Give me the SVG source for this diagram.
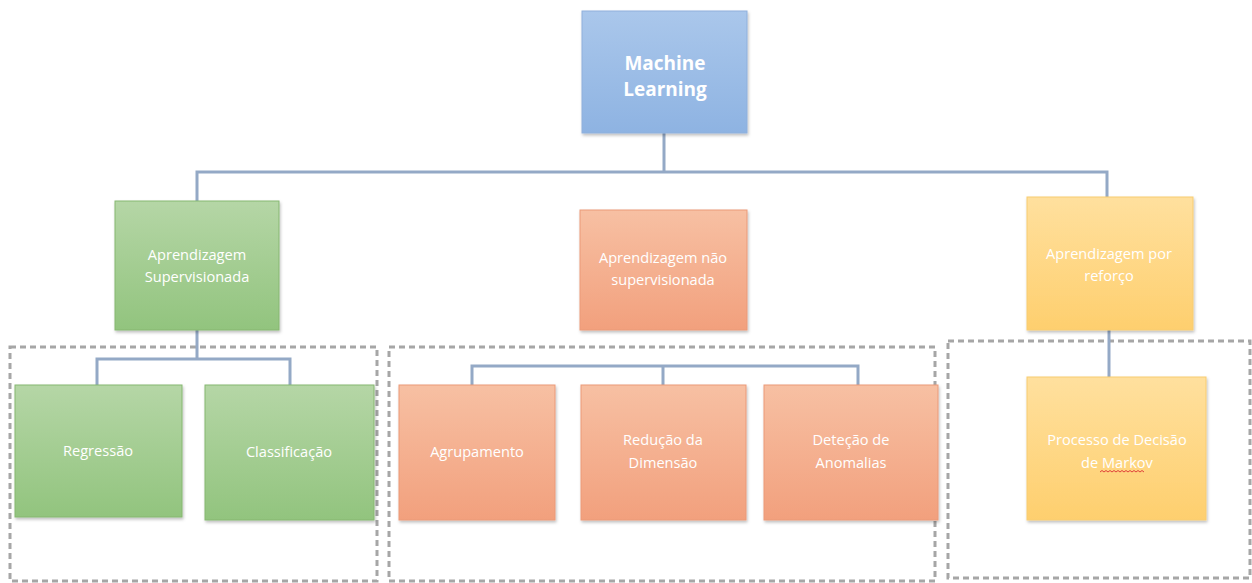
<svg xmlns="http://www.w3.org/2000/svg" width="1252" height="583" viewBox="0 0 1252 583">
<style>
.t{font-family:"Open Sans","Liberation Sans",sans-serif;font-size:14.6px;fill:#ffffff;text-anchor:middle}
.tb{font-family:"Open Sans","Liberation Sans",sans-serif;font-size:19px;font-weight:bold;fill:#ffffff;text-anchor:middle}
.c{fill:none;stroke:#94a9c6;stroke-width:3}
.d{fill:none;stroke:#a6a6a6;stroke-width:3;stroke-dasharray:6 4}
.blue{fill:url(#gb);stroke:#8fb0dc;stroke-width:1;filter:url(#sh)}
.green{fill:url(#gg);stroke:#86b771;stroke-width:1;filter:url(#sh)}
.orange{fill:url(#go);stroke:#eb9a78;stroke-width:1;filter:url(#sh)}
.yellow{fill:url(#gy);stroke:#f8cc70;stroke-width:1;filter:url(#sh)}
</style>
<defs>
<linearGradient id="gb" x1="0" y1="0" x2="0" y2="1"><stop offset="0" stop-color="#aac7eb"/><stop offset="1" stop-color="#8eb3e2"/></linearGradient>
<linearGradient id="gg" x1="0" y1="0" x2="0" y2="1"><stop offset="0" stop-color="#b5d6a6"/><stop offset="1" stop-color="#92c47e"/></linearGradient>
<linearGradient id="go" x1="0" y1="0" x2="0" y2="1"><stop offset="0" stop-color="#f7c0a3"/><stop offset="1" stop-color="#f2a07d"/></linearGradient>
<linearGradient id="gy" x1="0" y1="0" x2="0" y2="1"><stop offset="0" stop-color="#ffe09e"/><stop offset="1" stop-color="#fecf6e"/></linearGradient>
<filter id="sh" x="-10%" y="-10%" width="120%" height="120%"><feDropShadow dx="1" dy="2" stdDeviation="1.5" flood-color="#000" flood-opacity="0.25"/></filter>
</defs>
<rect width="1252" height="583" fill="#ffffff"/>
<g id="groups">
<rect class="d" x="10" y="347" width="367" height="234"/>
<rect class="d" x="389" y="347" width="546" height="234"/>
<rect class="d" x="948" y="341" width="302" height="237"/>
</g>
<g id="connectors">
<path class="c" d="M664,133 V172 M197,201 V172 H1107 V197"/>
<path class="c" d="M197,330 V359 M97,385 V359 H290 V385"/>
<path class="c" d="M472,385 V366 H858 V385 M663,366 V385"/>
<path class="c" d="M1109,330 V377"/>
</g>
<g id="ml"><rect class="blue" x="582" y="11" width="165" height="122"/><text class="tb" x="665" y="70">Machine</text><text class="tb" x="665" y="96">Learning</text></g>
<g id="sup"><rect class="green" x="115" y="201" width="164" height="129"/><text class="t" x="197" y="260">Aprendizagem</text><text class="t" x="197" y="282">Supervisionada</text></g>
<g id="unsup"><rect class="orange" x="580" y="210" width="167" height="120"/><text class="t" x="663" y="263">Aprendizagem não</text><text class="t" x="663" y="285">supervisionada</text></g>
<g id="reinf"><rect class="yellow" x="1027" y="197" width="166" height="133"/><text class="t" x="1109" y="259">Aprendizagem por</text><text class="t" x="1109" y="281">reforço</text></g>
<g id="regressao"><rect class="green" x="15" y="385" width="167" height="132"/><text class="t" x="98" y="456">Regressão</text></g>
<g id="classificacao"><rect class="green" x="205" y="385" width="169" height="135"/><text class="t" x="289" y="457">Classificação</text></g>
<g id="agrupamento"><rect class="orange" x="399" y="385" width="156" height="135"/><text class="t" x="477" y="457">Agrupamento</text></g>
<g id="reducao"><rect class="orange" x="581" y="385" width="165" height="135"/><text class="t" x="663" y="445">Redução da</text><text class="t" x="663" y="468">Dimensão</text></g>
<g id="detecao"><rect class="orange" x="764" y="385" width="174" height="135"/><text class="t" x="851" y="445">Deteção de</text><text class="t" x="851" y="468">Anomalias</text></g>
<g id="markov"><rect class="yellow" x="1027" y="377" width="179" height="143"/><text class="t" x="1117" y="445">Processo de Decisão</text><text class="t" x="1117" y="468">de Markov</text>
<path d="M1100,472 l2,-1.5 l2,1.5 l2,-1.5 l2,1.5 l2,-1.5 l2,1.5 l2,-1.5 l2,1.5 l2,-1.5 l2,1.5 l2,-1.5 l2,1.5 l2,-1.5 l2,1.5 l2,-1.5 l2,1.5 l2,-1.5 l2,1.5 l2,-1.5 l2,1.5 l2,-1.5 l2,1.5" fill="none" stroke="#e0403a" stroke-width="1"/></g>
</svg>
